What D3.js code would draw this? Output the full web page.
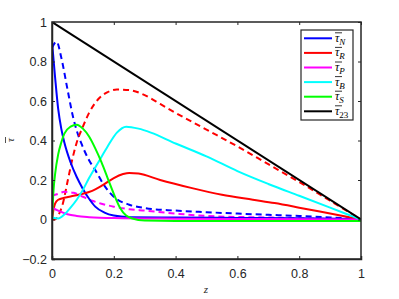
<!DOCTYPE html>
<html><head><meta charset="utf-8">
<script src="https://cdn.jsdelivr.net/npm/d3@7"></script>
<style>body{margin:0;background:#fff}svg{display:block}</style>
</head><body>
<svg id="c" width="399" height="299"></svg>
<script>
const xTicks = [0, 0.2, 0.4, 0.6, 0.8, 1];
const yTicks = [-0.2, 0, 0.2, 0.4, 0.6, 0.8, 1];
const tauN = [[0,0.9],[0.01,0.72],[0.02,0.56],[0.03,0.46],[0.04,0.39],[0.06,0.29],[0.08,0.215],[0.1,0.155],[0.12,0.105],[0.14,0.065],[0.17,0.035],[0.2,0.02],[0.25,0.012],[0.4,0.01],[0.6,0.008],[0.8,0.006],[1,0.003]];
const tauNd = [[0,0.87],[0.015,0.9],[0.03,0.82],[0.05,0.66],[0.068,0.52],[0.08,0.45],[0.095,0.385],[0.12,0.3],[0.14,0.25],[0.17,0.17],[0.2,0.115],[0.25,0.075],[0.3,0.058],[0.4,0.045],[0.5,0.037],[0.6,0.03],[0.7,0.024],[0.8,0.018],[0.9,0.01],[1,0.002]];
const tauR = [[0,0],[0.005,0.05],[0.01,0.08],[0.02,0.1],[0.04,0.11],[0.07,0.12],[0.1,0.13],[0.13,0.145],[0.16,0.17],[0.2,0.21],[0.23,0.23],[0.25,0.236],[0.28,0.233],[0.35,0.2],[0.45,0.16],[0.55,0.125],[0.65,0.1],[0.72,0.083],[0.8,0.06],[0.9,0.03],[1,0]];
const tauRd = [[0,0],[0.01,0],[0.02,0.02],[0.035,0.08],[0.05,0.19],[0.065,0.3],[0.08,0.39],[0.1,0.47],[0.12,0.54],[0.15,0.61],[0.18,0.645],[0.21,0.658],[0.25,0.655],[0.3,0.63],[0.35,0.585],[0.4,0.54],[0.5,0.455],[0.6,0.37],[0.7,0.28],[0.8,0.19],[0.9,0.095],[1,0]];
const tauP = [[0,0.06],[0.02,0.045],[0.05,0.027],[0.08,0.018],[0.12,0.012],[0.2,0.007],[0.4,0.004],[0.7,0.002],[1,0]];
const tauPd = [[0,0.12],[0.02,0.13],[0.04,0.14],[0.07,0.135],[0.1,0.115],[0.13,0.095],[0.16,0.08],[0.2,0.065],[0.25,0.052],[0.3,0.045],[0.4,0.03],[0.5,0.018],[0.7,0.01],[1,0]];
const tauB = [[0,0.01],[0.02,0.005],[0.04,0.025],[0.06,0.06],[0.08,0.1],[0.1,0.15],[0.12,0.21],[0.15,0.29],[0.18,0.37],[0.21,0.44],[0.24,0.47],[0.28,0.46],[0.32,0.44],[0.4,0.385],[0.5,0.32],[0.6,0.245],[0.7,0.18],[0.8,0.12],[0.9,0.06],[1,0]];
const tauS = [[0,0],[0.005,0.15],[0.01,0.23],[0.02,0.33],[0.03,0.39],[0.04,0.435],[0.06,0.47],[0.08,0.48],[0.1,0.46],[0.12,0.42],[0.14,0.36],[0.16,0.29],[0.18,0.21],[0.2,0.13],[0.22,0.06],[0.24,0.02],[0.26,0.005],[0.3,-0.005],[0.5,-0.008],[0.8,-0.008],[1,-0.008]];
const tau23 = [[0,1],[1,0]];
const legendNames = ["N","R","P","B","S","23"];

const series = [
  {d:tauNd, c:"#0000ff", dash:true},
  {d:tauRd, c:"#ff0000", dash:true},
  {d:tauPd, c:"#ff00ff", dash:true},
  {d:tauN, c:"#0000ff"},
  {d:tauR, c:"#ff0000"},
  {d:tauP, c:"#ff00ff"},
  {d:tauB, c:"#00ffff"},
  {d:tauS, c:"#00ff00"},
  {d:tau23, c:"#000000"}
];
const legendColors = ["#0000ff","#ff0000","#ff00ff","#00ffff","#00ff00","#000000"];

const svg = d3.select("#c");
const L=52, R=361, T=22, B=259;
const x = d3.scaleLinear().domain([0,1]).range([L,R]);
const y = d3.scaleLinear().domain([-0.2,1]).range([B,T]);
const ax = "#262626";
const font = "'Liberation Sans', Arial, Helvetica, sans-serif";

const line = d3.line().x(d=>x(d[0])).y(d=>y(d[1])).curve(d3.curveMonotoneX);
const g = svg.append("g");
g.append("defs").append("clipPath").attr("id","cp").append("rect").attr("x",L).attr("y",T).attr("width",R-L).attr("height",B-T);
const lg = g.append("g").attr("clip-path","url(#cp)");
series.forEach(s=>{
  lg.append("path").attr("d",line(s.d)).attr("fill","none").attr("stroke",s.c)
    .attr("stroke-width",2).attr("stroke-dasharray",s.dash?"6,4":null);
});

// axes
const xa = svg.append("g").attr("transform",`translate(0,${B})`).call(d3.axisBottom(x).tickValues(xTicks).tickSize(-3).tickPadding(10).tickFormat(d=>d3.format("")(d)));
const xt = svg.append("g").attr("transform",`translate(0,${T})`).call(d3.axisTop(x).tickValues(xTicks).tickSize(-3).tickFormat(""));
const ya = svg.append("g").attr("transform",`translate(${L},0)`).call(d3.axisLeft(y).tickValues(yTicks).tickSize(-3).tickPadding(5).tickFormat(d=>d3.format("")(+d.toFixed(1))));
const yr = svg.append("g").attr("transform",`translate(${R},0)`).call(d3.axisRight(y).tickValues(yTicks).tickSize(-3).tickFormat(""));
[xa,xt,ya,yr].forEach(a=>{
  a.select(".domain").attr("stroke",ax).attr("stroke-width",1.5);
  a.selectAll(".tick line").attr("stroke",ax).attr("stroke-width",1);
  a.selectAll("text").attr("fill",ax).style("font-family",font).style("font-size","12.5px");
});
[xt,yr].forEach(a=>a.select(".domain").attr("d",null));
svg.append("rect").attr("x",L).attr("y",T).attr("width",R-L).attr("height",B-T).attr("fill","none").attr("stroke",ax).attr("stroke-width",1.5);

// axis labels
const serif = "'Liberation Serif','DejaVu Serif',serif";
svg.append("text").attr("x",206).attr("y",293).attr("text-anchor","middle").attr("font-family",serif).attr("font-style","italic").attr("font-size",11).attr("fill",ax).text("z");
const yl = svg.append("g").attr("transform","translate(14,140) rotate(-90)");
yl.append("text").attr("text-anchor","middle").attr("font-family",serif).attr("font-style","italic").attr("font-size",11).attr("fill",ax).text("τ");
yl.append("line").attr("x1",-3).attr("x2",3).attr("y1",-8.5).attr("y2",-8.5).attr("stroke",ax).attr("stroke-width",0.8);

// legend
const lx=301, ly=30, lw=52, lh=90;
svg.append("rect").attr("x",lx).attr("y",ly).attr("width",lw).attr("height",lh).attr("fill","#fff").attr("stroke",ax).attr("stroke-width",1.2);
legendNames.forEach((n,i)=>{
  const yy = ly+8.3+i*14.6;
  svg.append("line").attr("x1",lx+3).attr("x2",lx+31).attr("y1",yy).attr("y2",yy).attr("stroke",legendColors[i]).attr("stroke-width",2);
  const t = svg.append("text").attr("x",lx+34).attr("y",yy+3.5).attr("font-family",serif).attr("font-size",12).attr("fill","#000");
  t.append("tspan").attr("font-style","italic").text("τ");
  t.append("tspan").attr("dy",3).attr("font-size",9).attr("font-style",n==="23"?"normal":"italic").text(n);
  svg.append("line").attr("x1",lx+34).attr("x2",lx+41).attr("y1",yy-5.5).attr("y2",yy-5.5).attr("stroke","#000").attr("stroke-width",0.8);
});
</script>
</body></html>
